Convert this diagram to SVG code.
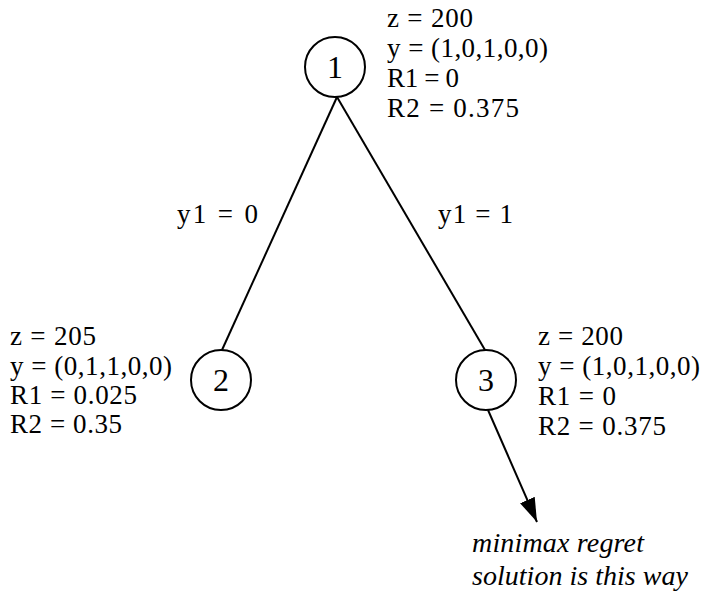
<svg xmlns="http://www.w3.org/2000/svg" width="706" height="596" viewBox="0 0 706 596">
<style>
  .node circle { fill: #ffffff; stroke: #000000; stroke-width: 2; }
  .num { font-family: "Liberation Serif", "Times New Roman", serif; font-size: 32px; fill: #000; text-anchor: middle; }
  .lbl { font-family: "Liberation Serif", "Times New Roman", serif; font-size: 27px; fill: #000; }
  .note { font-family: "Liberation Serif", "Times New Roman", serif; font-size: 28px; font-style: italic; fill: #000; }
  .edge { stroke: #000; stroke-width: 2; fill: none; }
</style>
<defs>
  <marker id="arrow" markerUnits="userSpaceOnUse" markerWidth="26" markerHeight="18" refX="24" refY="8" orient="auto">
    <path d="M0,0 L24,8 L0,16 Z" fill="#000"/>
  </marker>
</defs>
<rect width="706" height="596" fill="#ffffff"/>
<g id="connectors">
  <line class="edge" x1="337" y1="97" x2="222" y2="350"/>
  <line class="edge" x1="337" y1="97" x2="485" y2="350"/>
  <line class="edge" x1="488" y1="410" x2="537" y2="522" marker-end="url(#arrow)"/>
  <text class="lbl" x="177" y="223" textLength="81">y1 = 0</text>
  <text class="lbl" x="438" y="223" textLength="75">y1 = 1</text>
</g>
<g id="node1" class="node">
  <circle cx="335" cy="67" r="30"/>
  <text class="num" x="335" y="78">1</text>
  <text class="lbl" x="387" y="27" textLength="86">z = 200</text>
  <text class="lbl" x="387" y="57" textLength="161">y = (1,0,1,0,0)</text>
  <text class="lbl" x="387" y="87" textLength="72">R1 = 0</text>
  <text class="lbl" x="387" y="117" textLength="132">R2 = 0.375</text>
</g>
<g id="node2" class="node">
  <circle cx="221" cy="380" r="30"/>
  <text class="num" x="221" y="391">2</text>
  <text class="lbl" x="10" y="345" textLength="86">z = 205</text>
  <text class="lbl" x="10" y="375" textLength="162">y = (0,1,1,0,0)</text>
  <text class="lbl" x="10" y="404" textLength="127">R1 = 0.025</text>
  <text class="lbl" x="10" y="433" textLength="112">R2 = 0.35</text>
</g>
<g id="node3" class="node">
  <circle cx="486" cy="380" r="30"/>
  <text class="num" x="486" y="391">3</text>
  <text class="lbl" x="538" y="345" textLength="85">z = 200</text>
  <text class="lbl" x="538" y="375" textLength="162">y = (1,0,1,0,0)</text>
  <text class="lbl" x="538" y="405" textLength="78">R1 = 0</text>
  <text class="lbl" x="538" y="435" textLength="128">R2 = 0.375</text>
</g>
<g id="note">
  <text class="note" x="472" y="552" textLength="172">minimax regret</text>
  <text class="note" x="472" y="585" textLength="216">solution is this way</text>
</g>
</svg>
